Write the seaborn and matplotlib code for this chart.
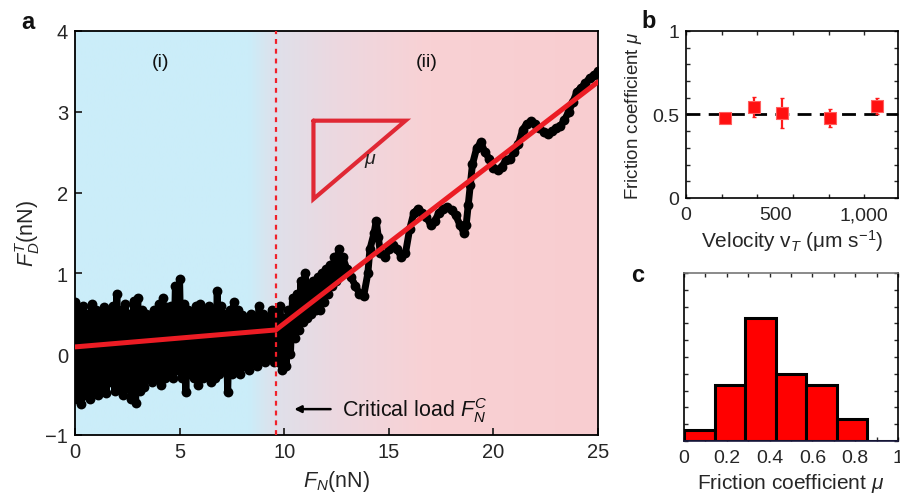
import numpy as np
import matplotlib
matplotlib.use("Agg")
import matplotlib.pyplot as plt
from matplotlib.colors import LinearSegmentedColormap
from matplotlib.ticker import MultipleLocator, FixedLocator, NullFormatter
import seaborn as sns

# --- panel a: friction trace ---
# region (i): upper and lower edges of the noisy band, alternating samples
band_upper = [0.64, 0.55, 0.60, 0.50, 0.62, 0.55, 0.50, 0.58, 0.52, 0.60,
              0.75, 0.55, 0.62, 0.50, 0.66, 0.70, 0.55, 0.50, 0.48, 0.55,
              0.62, 0.69, 0.58, 0.60, 0.85, 0.93, 0.62, 0.55, 0.50, 0.60,
              0.62, 0.55, 0.60, 0.52, 0.78, 0.60, 0.50, 0.55, 0.64, 0.55,
              0.48, 0.45, 0.50, 0.45, 0.60, 0.50, 0.45, 0.55, 0.50]
band_lower = [-0.55, -0.62, -0.50, -0.55, -0.45, -0.50, -0.40, -0.48, -0.35, -0.45,
              -0.40, -0.50, -0.42, -0.55, -0.60, -0.45, -0.40, -0.30, -0.35, -0.30,
              -0.38, -0.30, -0.25, -0.30, -0.20, -0.30, -0.47, -0.25, -0.30, -0.38,
              -0.30, -0.25, -0.35, -0.30, -0.25, -0.20, -0.47, -0.25, -0.20, -0.25,
              -0.15, -0.20, -0.10, -0.15, -0.05, -0.10, -0.05, -0.10]

# region (ii): sliding trace
slide_fn = [9.7, 9.8, 9.9, 10.0, 10.1, 10.2, 10.3, 10.4, 10.5, 10.6, 10.7, 10.8,
            10.9, 11.0, 11.1, 11.2, 11.3, 11.4, 11.5, 11.6, 11.7, 11.8, 11.9, 12.0,
            12.1, 12.2, 12.3, 12.4, 12.5, 12.6, 12.7, 12.8, 13.0, 13.2, 13.4, 13.6,
            13.8, 14.0, 14.1, 14.3, 14.4, 14.5, 14.6, 14.8, 15.0, 15.2, 15.4, 15.6,
            15.8, 16.0, 16.2, 16.4, 16.6, 16.8, 17.0, 17.2, 17.4, 17.6, 17.8, 18.0,
            18.2, 18.4, 18.6, 18.7, 18.8, 18.9, 19.0, 19.2, 19.4, 19.6, 19.8, 20.0,
            20.2, 20.4, 20.6, 20.8, 21.0, 21.2, 21.4, 21.6, 21.8, 22.0, 22.2, 22.4,
            22.6, 22.8, 23.0, 23.2, 23.4, 23.6, 23.8, 24.0, 24.2, 24.4, 24.6, 24.8, 25.0]
slide_fd = [-0.10, 0.60, -0.20, 0.45, -0.15, 0.55, 0.00, 0.70, 0.20, 0.75, 0.30, 0.90,
            0.40, 1.00, 0.45, 0.85, 0.50, 0.90, 0.55, 0.95, 0.55, 1.00, 0.65, 1.05,
            0.75, 1.10, 0.85, 1.20, 0.90, 1.30, 1.00, 1.20, 1.05, 0.95, 0.85, 0.75,
            0.72, 1.00, 1.30, 1.50, 1.65, 1.45, 1.25, 1.20, 1.30, 1.35, 1.30, 1.20,
            1.25, 1.55, 1.75, 1.80, 1.75, 1.70, 1.60, 1.65, 1.75, 1.80, 1.82, 1.78,
            1.72, 1.60, 1.50, 1.60, 1.85, 2.10, 2.35, 2.55, 2.62, 2.50, 2.42, 2.30,
            2.28, 2.32, 2.40, 2.42, 2.50, 2.60, 2.78, 2.85, 2.88, 2.85, 2.80, 2.75,
            2.72, 2.76, 2.80, 2.82, 2.90, 3.00, 3.12, 3.25, 3.30, 3.35, 3.42, 3.45, 3.50]

fit_fn = [0.0, 9.6, 25.0]
fit_fd = [0.09, 0.30, 3.37]
critical_load = 9.6

# --- panel b: friction coefficient vs velocity ---
velocity = [218, 380, 538, 806, 1074]
mu_vel = [0.479, 0.543, 0.509, 0.479, 0.549]
mu_err = [0.0, 0.06, 0.09, 0.053, 0.048]

# --- panel c: histogram of friction coefficient ---
mu_bin_edges = [0.0, 0.143, 0.286, 0.429, 0.571, 0.714, 0.857]
mu_counts = [1, 5, 11, 6, 5, 2]

sns.set_theme(style="ticks")
plt.rcParams['font.family'] = ['Liberation Sans', 'DejaVu Sans']
plt.rcParams['mathtext.fontset'] = 'custom'
plt.rcParams['mathtext.rm'] = 'Liberation Sans'
plt.rcParams['mathtext.it'] = 'Liberation Sans:italic'
plt.rcParams['axes.linewidth'] = 1.2
plt.rcParams['axes.edgecolor'] = 'black'
plt.rcParams['text.color'] = '#111111'

fig = plt.figure(figsize=(9, 5.02), dpi=100)
ax_a = fig.add_axes([0.0833, 0.1315, 0.5811, 0.8048])
ax_b = fig.add_axes([0.7622, 0.6036, 0.2356, 0.3327])
ax_c = fig.add_axes([0.7600, 0.1195, 0.2378, 0.3347])

# ----- panel a -----
grad = LinearSegmentedColormap.from_list("bg", [
    (0.0, "#cbedf9"), (8.3 / 25, "#cbedf9"), (9.6 / 25, "#dfe0ea"),
    (12.5 / 25, "#ecd8e0"), (17.0 / 25, "#f9d1d4"), (1.0, "#f8cdd0")])
ax_a.imshow(np.linspace(0, 1, 400)[None, :], extent=[0, 25, -1, 4],
            aspect='auto', cmap=grad, zorder=0)

x_hi = np.round(np.arange(len(band_upper)) * 0.2, 1)
x_lo = np.round(np.arange(len(band_lower)) * 0.2 + 0.1, 1)
trace_fn = np.empty(len(x_hi) + len(x_lo))
trace_fd = np.empty_like(trace_fn)
trace_fn[0::2], trace_fn[1::2] = x_hi, x_lo
trace_fd[0::2], trace_fd[1::2] = band_upper, band_lower
trace_fn = np.concatenate([trace_fn, slide_fn])
trace_fd = np.concatenate([trace_fd, slide_fd])

sns.lineplot(x=trace_fn, y=trace_fd, sort=False, estimator=None, color='black',
             lw=5, ax=ax_a, zorder=2)
sns.scatterplot(x=trace_fn, y=trace_fd, color='black', s=50, linewidth=0,
                ax=ax_a, zorder=2)
sns.lineplot(x=fit_fn, y=fit_fd, sort=False, estimator=None, color='#ec1c24',
             lw=3.6, ax=ax_a, zorder=3)
ax_a.axvline(critical_load, color='#f0202a', lw=1.6, ls=(0, (2.2, 2.2)), zorder=4)

# slope triangle
tri_x = [11.4, 15.8, 11.4, 11.4]
tri_y = [2.89, 2.89, 1.92, 2.89]
ax_a.plot(tri_x, tri_y, color='#e02834', lw=3.0, solid_joinstyle='miter', zorder=3)
ax_a.text(14.1, 2.40, r'$\mu$', fontsize=14, ha='center', va='center', color='#222222')

ax_a.text(4.1, 3.62, '(i)', fontsize=14, ha='center', va='center')
ax_a.text(16.8, 3.62, '(ii)', fontsize=14, ha='center', va='center')
ax_a.annotate('', xy=(10.35, -0.68), xytext=(12.35, -0.68),
              arrowprops=dict(arrowstyle='-|>', color='black', lw=1.8,
                              mutation_scale=10))
ax_a.text(12.75, -0.68, r'Critical load $F_N^C$', fontsize=15.5, ha='left', va='center')

ax_a.set_xlim(0, 25)
ax_a.set_ylim(-1, 4)
ax_a.xaxis.set_major_locator(MultipleLocator(5))
ax_a.tick_params(direction='in', length=5, width=1.3, labelsize=14.5, pad=5)
ax_a.set_yticks([-1, 0, 1, 2, 3, 4], ['\u22121', '0', '1', '2', '3', '4'])
ax_a.set_xlabel(r'$F_N$(nN)', fontsize=15.5, labelpad=5)
ax_a.set_ylabel(r'$F_D^T$(nN)', fontsize=15.5, labelpad=2)
for s in ax_a.spines.values():
    s.set_visible(True)
    s.set_linewidth(1.3)

# ----- panel b -----
ax_b.axhline(0.5, color='black', lw=2.0, ls=(0, (5, 3)), zorder=1)
ax_b.errorbar(velocity, mu_vel, yerr=mu_err, fmt='none', ecolor='#ff1a1a',
              elinewidth=1.6, capsize=1.5, zorder=2)
sns.scatterplot(x=velocity, y=mu_vel, marker='s', color='#ff1010', s=70,
                edgecolor='#ff6060', linewidth=0.8, ax=ax_b, zorder=3)
ax_b.set_xlim(0, 1190)
ax_b.set_ylim(0, 1)
ax_b.xaxis.set_major_locator(FixedLocator([0, 500, 1000]))
ax_b.xaxis.set_minor_locator(FixedLocator([0, 200, 400, 600, 800, 1000]))
ax_b.xaxis.remove_overlapping_locs = False
ax_b.set_xticklabels(['0', '500', '1,000'])
ax_b.yaxis.set_major_locator(FixedLocator([0, 0.5, 1]))
ax_b.yaxis.set_minor_locator(MultipleLocator(0.1))
ax_b.set_yticklabels(['0', '0.5', '1'])
ax_b.tick_params(axis='x', which='major', length=0, labelsize=14, pad=6)
ax_b.tick_params(axis='y', which='major', direction='in', length=3, width=1,
                 labelsize=14, right=True, pad=5)
ax_b.tick_params(which='minor', direction='in', length=3, width=1,
                 top=True, right=True)
ax_b.set_xlabel(r'Velocity v$_T$ (μm s$^{-1}$)', fontsize=15, labelpad=3)
ax_b.set_ylabel(r'Friction coefficient $\mu$', fontsize=13.5, labelpad=6)

# ----- panel c -----
bin_centers = [(a + b) / 2 for a, b in zip(mu_bin_edges[:-1], mu_bin_edges[1:])]
hist_edges = mu_bin_edges + [mu_bin_edges[-1] + 0.143]
sns.histplot(x=bin_centers, weights=mu_counts, bins=hist_edges, color='#ff0000',
             edgecolor='black', linewidth=2.2, alpha=1, ax=ax_c, zorder=2)
ax_c.set_xlim(0, 1)
ax_c.set_ylim(0, 15)
ax_c.set_xticks([0, 0.2, 0.4, 0.6, 0.8, 1.0], ['0', '0.2', '0.4', '0.6', '0.8', '1'])
ax_c.xaxis.set_minor_locator(MultipleLocator(0.1))
ax_c.yaxis.set_major_locator(MultipleLocator(1.5))
ax_c.yaxis.set_major_formatter(NullFormatter())
ax_c.tick_params(axis='x', which='major', direction='in', length=3, width=1,
                 labelsize=14, top=True, pad=6)
ax_c.tick_params(axis='x', which='minor', direction='in', length=3, width=1, top=True)
ax_c.tick_params(axis='y', direction='in', length=3, width=1, left=True, right=True)
ax_c.set_xlabel(r'Friction coefficient $\mu$', fontsize=15, labelpad=3)
ax_c.set_ylabel('')
ax_c.spines['top'].set_color('#777777')
ax_c.spines['bottom'].set_color('#1a1a40')

for ax in (ax_b, ax_c):
    for s in ax.spines.values():
        s.set_visible(True)

fig.text(0.031, 0.955, 'a', fontsize=17, fontweight='bold', ha='center', va='center')
fig.text(0.721, 0.958, 'b', fontsize=17, fontweight='bold', ha='center', va='center')
fig.text(0.708, 0.452, 'c', fontsize=17, fontweight='bold', ha='center', va='center')

fig.savefig('out.png', dpi=100)
